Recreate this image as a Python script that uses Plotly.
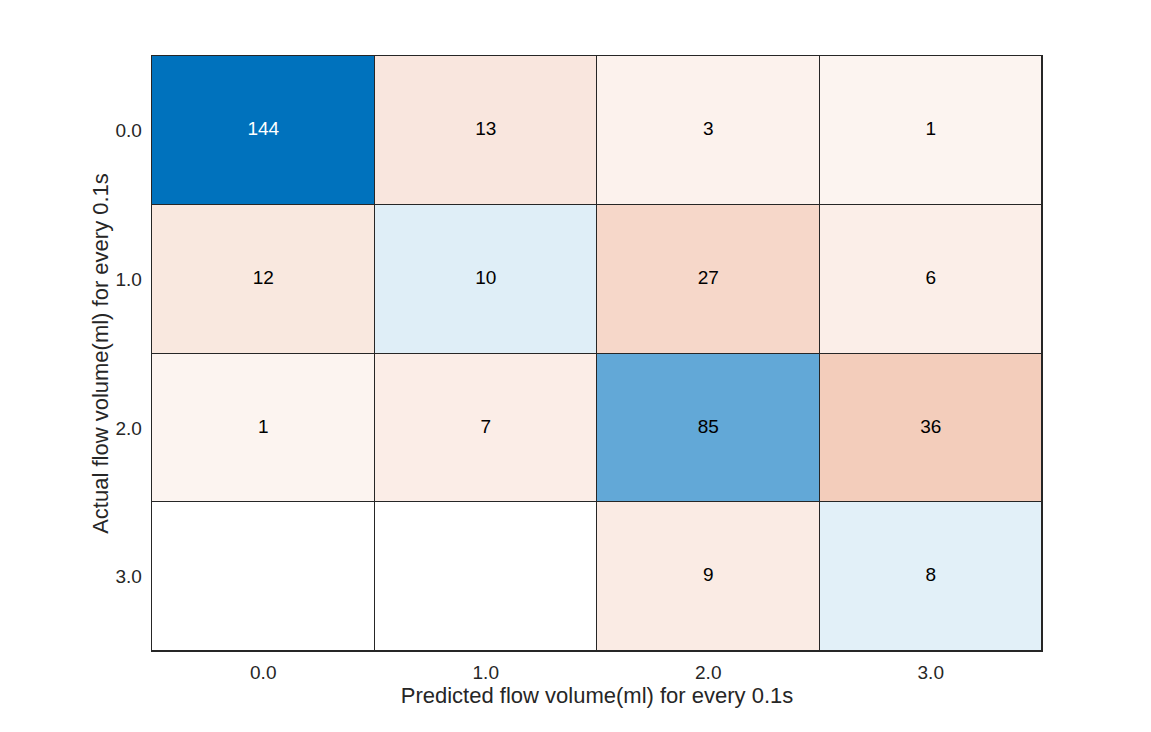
import numpy as np
import plotly.graph_objects as go

# confusion matrix (rows: actual, cols: predicted)
classes = ["0.0", "1.0", "2.0", "3.0"]
counts = [
    [144, 13, 3, 1],
    [12, 10, 27, 6],
    [1, 7, 85, 36],
    [0, 0, 9, 8],
]

cm = np.array(counts, dtype=float)
n = len(classes)
diag_mask = np.eye(n, dtype=bool)
zmax = cm.max()

diag = np.where(diag_mask, cm, np.nan)
off = np.where(~diag_mask, cm, np.nan)

# zero -> white, 1..max -> light tint .. full colour (matlab-ish)
low = 1 / zmax
off_scale = [[0, "#ffffff"], [low, "#fcf4f0"], [1, "#D95319"]]
diag_scale = [[0, "#ffffff"], [low, "#eef6fb"], [1, "#0072BD"]]

fig = go.Figure()
fig.add_trace(go.Heatmap(
    z=off, x=classes, y=classes, zmin=0, zmax=zmax,
    colorscale=off_scale, showscale=False, xgap=1, ygap=1, hoverinfo="skip"))
fig.add_trace(go.Heatmap(
    z=diag, x=classes, y=classes, zmin=0, zmax=zmax,
    colorscale=diag_scale, showscale=False, xgap=1, ygap=1, hoverinfo="skip"))

# cell labels
tx, ty, tt, tc = [], [], [], []
for i in range(n):
    for j in range(n):
        v = counts[i][j]
        if v == 0:
            continue
        tx.append(classes[j])
        ty.append(classes[i])
        tt.append(str(v))
        tc.append("white" if (i == j and v / zmax > 0.7) else "black")
fig.add_trace(go.Scatter(
    x=tx, y=ty, text=tt, mode="text",
    textfont=dict(size=19, color=tc, family="Liberation Sans, Arial"),
    hoverinfo="skip", showlegend=False))

# page body adds ~8px offset, margins compensate
fig.update_layout(
    width=1151, height=732,
    margin=dict(l=144, r=117, t=48, b=89),
    paper_bgcolor="white", plot_bgcolor="#262626",
    font=dict(family="Liberation Sans, Arial", size=18, color="#262626"),
    showlegend=False,
)
fig.update_xaxes(
    type="category", showgrid=False, zeroline=False,
    ticks="outside", ticklen=4, tickcolor="rgba(0,0,0,0)",
    showline=True, linecolor="#262626", linewidth=1, mirror=True,
    automargin=False,
    title=dict(text="Predicted flow volume(ml) for every 0.1s",
               font=dict(size=22), standoff=4),
    tickfont=dict(size=19, color="#262626"))
fig.update_yaxes(
    type="category", autorange="reversed", showgrid=False, zeroline=False,
    ticks="", showline=True, linecolor="#262626", linewidth=1, mirror=True,
    automargin=False,
    title=dict(text="Actual flow volume(ml) for every 0.1s",
               font=dict(size=22), standoff=0),
    tickfont=dict(size=19, color="#262626"), ticksuffix=" ")

fig.write_html("out.html")
